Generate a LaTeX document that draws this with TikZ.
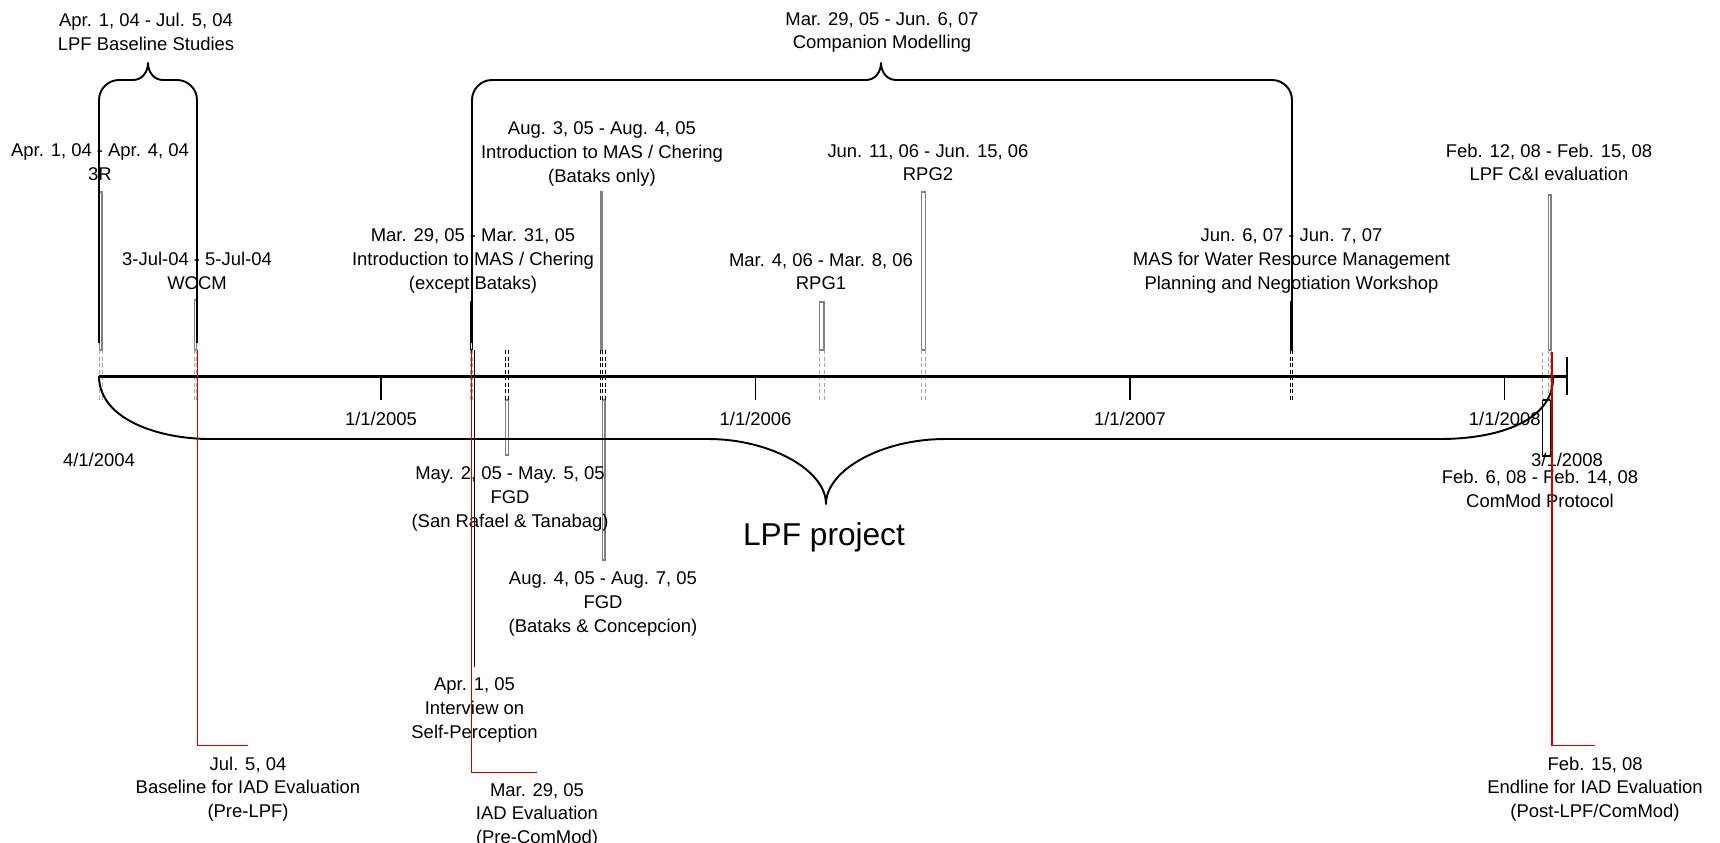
\documentclass[tikz,border=0pt]{standalone}
\usepackage{fontspec}
\setmainfont{Liberation Sans}
\usetikzlibrary{positioning}
\definecolor{iadred}{RGB}{200,0,0}
\definecolor{bargray}{RGB}{128,128,128}

\begin{document}
\begin{tikzpicture}[x=0.02cm, y=-0.02cm,
	lbl/.style={align=center, inner sep=0pt, font=\fontsize{10.5}{13.4}\selectfont},
	bigtitle/.style={inner sep=0pt, font=\fontsize{18}{22}\selectfont},
	brc/.style={line width=1.1pt, line join=round},
	gbar/.style={draw=bargray, fill=white, line width=0.95pt},
	kbar/.style={draw=black, fill=white, line width=0.8pt},
	gdash/.style={draw=gray!70, line width=0.5pt, dash pattern=on 2.3pt off 1.4pt},
	kdash/.style={draw=black, line width=0.5pt, dash pattern=on 2.3pt off 1.4pt},
	iad/.style={draw=iadred, line width=0.6pt},
	yrtick/.style={line width=0.6pt}]
	
	\useasboundingbox (0,0) rectangle (1720,842);
	
	% Interval bars above the axis
	\draw[gbar] (99.5,192) rectangle (102,350);
	\draw[gbar] (194.5,300) rectangle (196.5,350);
	\draw[kbar] (470.5,302) rectangle (472.5,350);
	\draw[gbar] (600.6,192) rectangle (602,350);
	\draw[gbar] (819.5,302) rectangle (824,350);
	\draw[gbar] (921.5,192) rectangle (925.5,350);
	\draw[kbar] (1290.5,302) rectangle (1292.5,350);
	\draw[gbar] (1548.5,195) rectangle (1551,350);
	
	% Interval bars below the axis
	\draw[gbar] (505.5,400) rectangle (508.5,455);
	\draw[gbar] (602.5,400) rectangle (605,560);
	\draw[kbar] (1542.7,400) rectangle (1550.7,456);
	
	% Date guides
	\foreach \x in {99,102,194.5,196.5,470.5,472.5,819.5,824,921.5,925.5,1548.5,1551}
		\draw[gdash] (\x,350) -- (\x,400);
	\foreach \x in {505.5,508.5,600.6,602,605,1290.5,1292.5}
		\draw[kdash] (\x,350) -- (\x,400);
	\foreach \x in {1542.7,1550.7}
		\draw[gdash] (\x,352) -- (\x,400);
	
	% Braces
	\draw[brc] (99,343) -- (99,100) .. controls (99,89) and (108,80) .. (119,80) -- (133,80)
		.. controls (142,80) and (148,72) .. (148,63) .. controls (148,72) and (154,80) .. (163,80)
		-- (177,80) .. controls (188,80) and (197,89) .. (197,100) -- (197,343);
	\draw[brc] (472,343) -- (472,100) .. controls (472,89) and (481,80) .. (492,80) -- (866,80)
		.. controls (875,80) and (881,72) .. (881,63) .. controls (881,72) and (887,80) .. (896,80)
		-- (1272,80) .. controls (1283,80) and (1292,89) .. (1292,100) -- (1292,350);
	\draw[brc] (99,376) .. controls (99,420) and (160,439) .. (210,439) -- (708,439)
		.. controls (770,439) and (826,470) .. (826,504) .. controls (826,470) and (882,439) .. (945,439)
		-- (1440,439) .. controls (1500,439) and (1553,420) .. (1553,378);
	
	% Time axis
	\coordinate (start) at (99,376);
	\coordinate (end) at (1567,376);
	\draw[line width=1.7pt] (start) -- (end);
	\draw[yrtick] (1567,357) -- (1567,395);
	\foreach \x/\yr in {381/2005, 755.6/2006, 1130/2007, 1504.8/2008} {
		\draw[yrtick] (\x,376) -- (\x,400) coordinate (t\yr);
		\node[lbl, below=0.24cm of t\yr] (y\yr) {1/1/\yr};
	}
	\node[lbl] (startlbl) at (99,460) {4/1/2004};
	\node[lbl] (endlbl) at (1567,460) {3/1/2008};
	
	% Labels
	\node[lbl] (basestudy) at (146,32) {Apr. 1, 04 - Jul. 5, 04\\LPF Baseline Studies};
	\node[lbl] (commod) at (882,32.5) {Mar. 29, 05 - Jun. 6, 07\\Companion Modelling};
	\node[lbl] (r3) at (100,162) {Apr. 1, 04 - Apr. 4, 04\\3R};
	\node[lbl] (wccm) at (197,271) {3-Jul-04 - 5-Jul-04\\WCCM};
	\node[lbl] (intro1) at (473,261) {Mar. 29, 05 - Mar. 31, 05\\Introduction to MAS / Chering\\(except Bataks)};
	\node[lbl] (intro2) at (602,154) {Aug. 3, 05 - Aug. 4, 05\\Introduction to MAS / Chering\\(Bataks only)};
	\node[lbl] (rpg1) at (821,271.5) {Mar. 4, 06 - Mar. 8, 06\\RPG1};
	\node[lbl] (rpg2) at (928,162.5) {Jun. 11, 06 - Jun. 15, 06\\RPG2};
	\node[lbl] (water) at (1291.5,261) {Jun. 6, 07 - Jun. 7, 07\\MAS for Water Resource Management\\Planning and Negotiation Workshop};
	\node[lbl] (cieval) at (1549,162.5) {Feb. 12, 08 - Feb. 15, 08\\LPF C\&I evaluation};
	\node[lbl] (fgd1) at (510,499) {May. 2, 05 - May. 5, 05\\FGD\\(San Rafael \& Tanabag)};
	\node[lbl] (fgd2) at (603,604) {Aug. 4, 05 - Aug. 7, 05\\FGD\\(Bataks \& Concepcion)};
	\node[lbl] (protocol) at (1540,489) {Feb. 6, 08 - Feb. 14, 08\\ComMod Protocol};
	\node[lbl] (interview) at (474.5,710) {Apr. 1, 05\\Interview on\\Self-Perception};
	\node[lbl] (iadpre) at (537,815) {Mar. 29, 05\\IAD Evaluation\\(Pre-ComMod)};
	\node[lbl] (baseline) at (248,789) {Jul. 5, 04\\Baseline for IAD Evaluation\\(Pre-LPF)};
	\node[lbl] (endline) at (1595,789) {Feb. 15, 08\\Endline for IAD Evaluation\\(Post-LPF/ComMod)};
	\node[bigtitle] (lpf) at (824,537.5) {LPF project};
	
	% Milestones
	\coordinate (jul5) at (197.3,350);
	\coordinate (mar29) at (471.4,351);
	\coordinate (apr1) at (474.5,350);
	\coordinate (feb15) at (1552,352);
	\draw[line width=0.6pt] (apr1) -- ([yshift=5.9pt]interview.north);
	\draw[iad] (jul5) |- ([yshift=6.5pt]baseline.north);
	\draw[iad] (mar29) |- ([yshift=6.1pt]iadpre.north);
	\draw[iad] (feb15) |- ([yshift=6.5pt]endline.north);
\end{tikzpicture}
\end{document}
